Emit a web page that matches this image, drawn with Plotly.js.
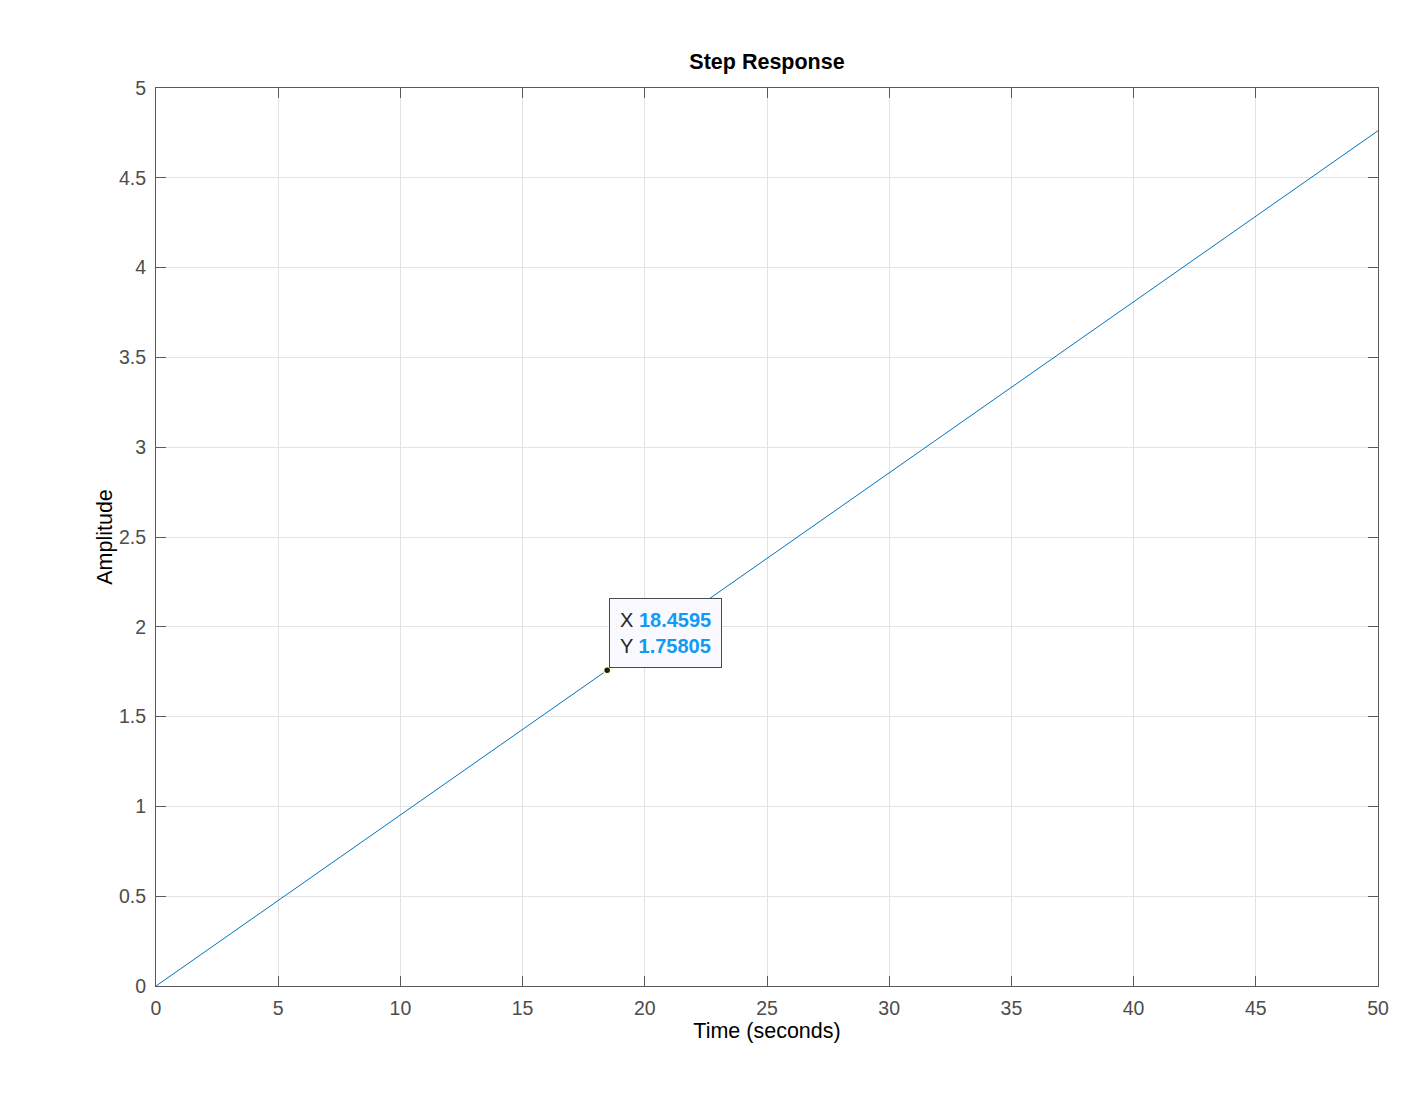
<!DOCTYPE html>
<html>
<head>
<meta charset="utf-8">
<script src="https://cdn.plot.ly/plotly-3.0.1.min.js"></script>
<style>html,body{margin:0;padding:0;background:#fff;}#plot{width:1418px;height:1096px;}</style>
</head>
<body>
<div id="plot"></div>
<script>
var timeSeconds = [0, 18.4595, 50];
var amplitude = [0, 1.75805, 4.762];
var tipX = 18.4595;
var tipY = 1.75805;
var xTicks = [0,5,10,15,20,25,30,35,40,45,50];
var yTicks = [0,0.5,1,1.5,2,2.5,3,3.5,4,4.5,5];

var font = "Liberation Sans, Arial, Helvetica, sans-serif";
var traces = [
  {x: timeSeconds, y: amplitude, mode: 'lines', line: {color: '#0072BD', width: 1}, hoverinfo: 'skip'},
  {x: [tipX], y: [tipY], mode: 'markers', marker: {color: '#1a1a1a', size: 7, line: {color: '#ffffc0', width: 1.5}}, hoverinfo: 'skip'}
];
var axisCommon = {
  showline: true, mirror: 'ticks', linecolor: '#5a5a5a', linewidth: 1,
  ticks: 'inside', ticklen: 10, tickcolor: '#5a5a5a',
  showgrid: true, gridcolor: '#e3e3e3', gridwidth: 1, zeroline: false,
  tickfont: {family: font, size: 19.5, color: '#4d4d4d'}
};
var layout = {
  width: 1418, height: 1096,
  margin: {l: 156, r: 40, t: 88, b: 110},
  paper_bgcolor: '#ffffff', plot_bgcolor: '#ffffff',
  showlegend: false,
  title: {text: '<b>Step Response</b>', font: {family: font, size: 21.5, color: '#000'}, x: 0.5, xref: 'paper', y: 1 - 61/1096, yref: 'container', yanchor: 'middle'},
  xaxis: Object.assign({}, axisCommon, {range: [0, 50], tickvals: xTicks, ticktext: xTicks.map(String), ticklabelstandoff: 5,
    title: {text: 'Time (seconds)', font: {family: font, size: 21.5, color: '#000'}, standoff: 4}}),
  yaxis: Object.assign({}, axisCommon, {range: [0, 5], tickvals: yTicks, ticktext: yTicks.map(String), ticklabelstandoff: 5,
    title: {text: 'Amplitude', font: {family: font, size: 21.5, color: '#000'}, standoff: 0}}),
  annotations: [{
    x: tipX, y: tipY, xref: 'x', yref: 'y', xanchor: 'left', yanchor: 'bottom', showarrow: false,
    xshift: 2, yshift: 2,
    align: 'left',
    text: "X <b><span style='color:#0f9bf5'>18.4595</span></b><br>Y <b><span style='color:#0f9bf5'>1.75805</span></b>",
    font: {family: font, size: 20, color: '#262626'},
    bgcolor: '#f9f9ff', bordercolor: '#4a4a4a', borderwidth: 1, borderpad: 10
  }]
};
Plotly.newPlot('plot', traces, layout, {displayModeBar: false, staticPlot: true});
</script>
</body>
</html>
